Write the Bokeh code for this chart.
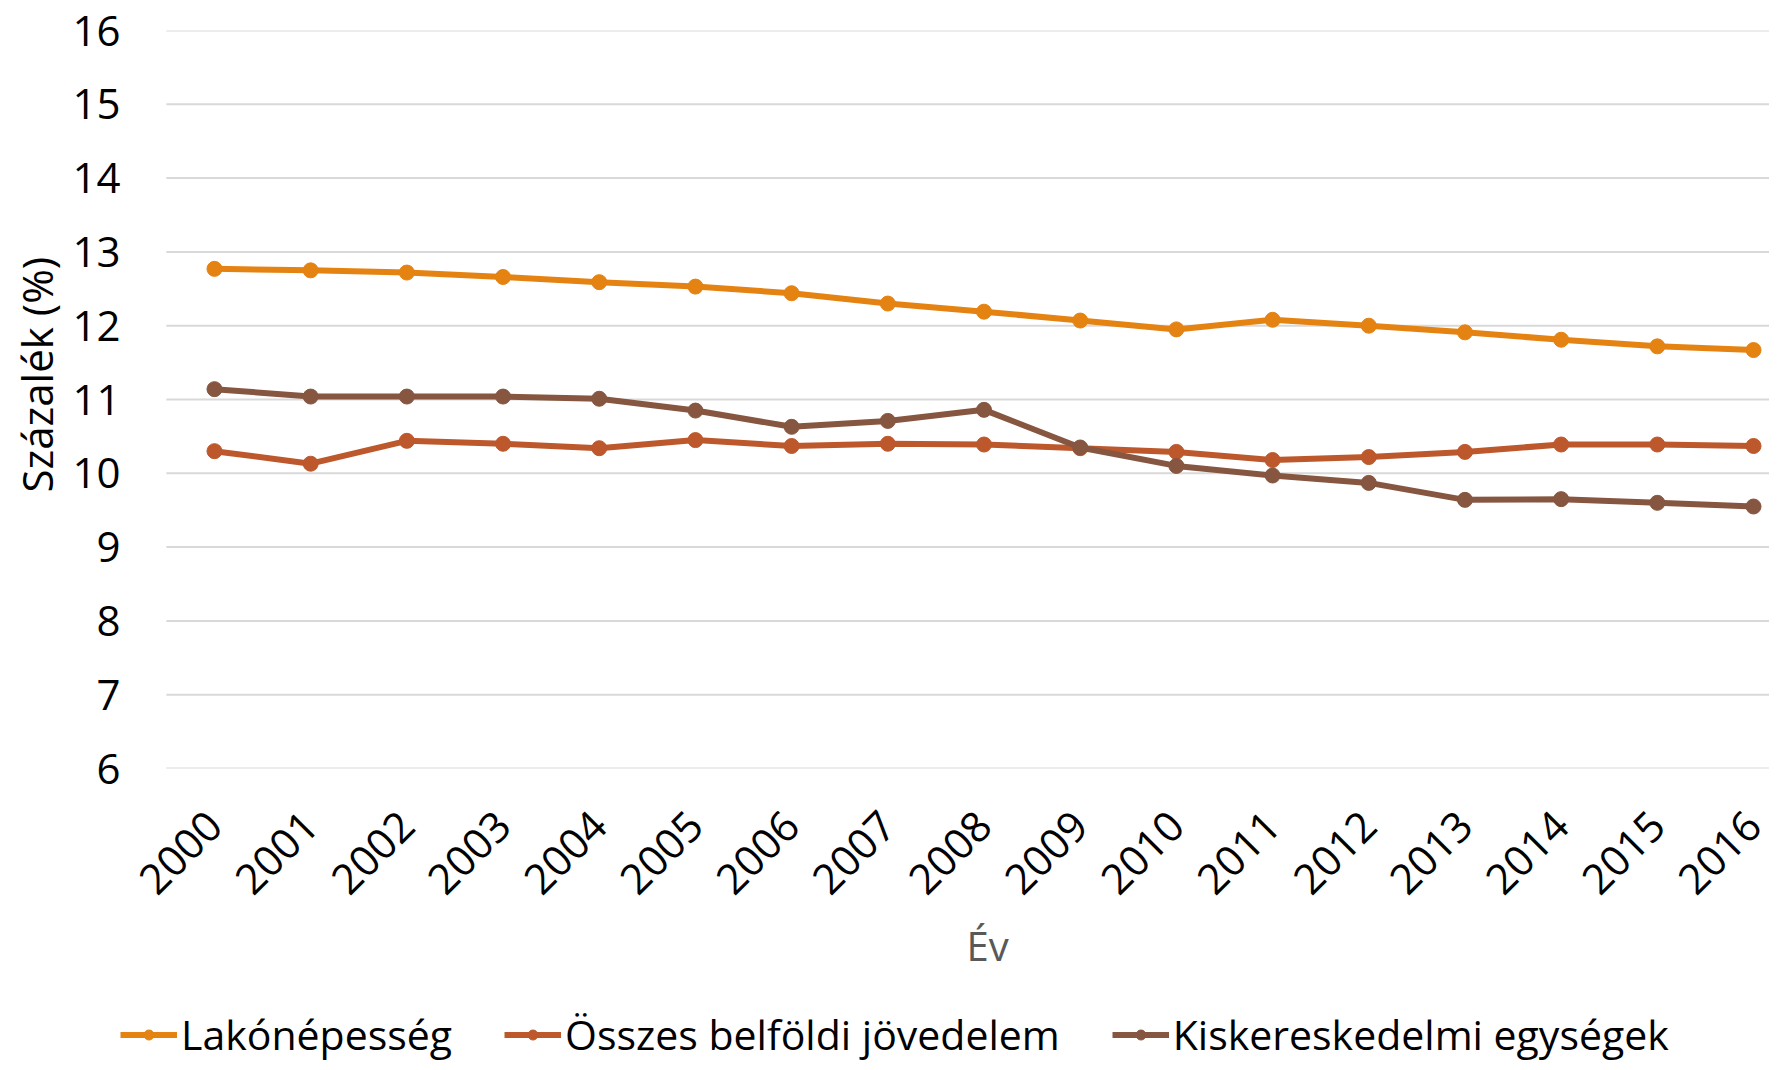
import math
from bokeh.plotting import figure
from bokeh.models import Range1d, FixedTicker, Legend, LegendItem, Title
from bokeh.layouts import column
from bokeh.embed import file_html
from bokeh.resources import INLINE

years = list(range(2000, 2017))
year_labels = [str(y) for y in years]
lakonepesseg = [12.77, 12.75, 12.72, 12.66, 12.59, 12.53, 12.44, 12.30, 12.19,
                12.07, 11.95, 12.08, 12.00, 11.91, 11.81, 11.72, 11.67]
osszes_jovedelem = [10.30, 10.13, 10.44, 10.40, 10.34, 10.45, 10.37, 10.40, 10.39,
                    10.34, 10.29, 10.18, 10.22, 10.29, 10.39, 10.39, 10.37]
kiskereskedelmi = [11.14, 11.04, 11.04, 11.04, 11.01, 10.85, 10.63, 10.71, 10.86,
                   10.35, 10.10, 9.97, 9.87, 9.64, 9.65, 9.60, 9.55]
series_names = ["Lakónépesség", "Összes belföldi jövedelem", "Kiskereskedelmi egységek"]
series_colors = ["#E48312", "#BD582C", "#865640"]
series_values = [lakonepesseg, osszes_jovedelem, kiskereskedelmi]
y_ticks = list(range(6, 17))

FONT = "Open Sans"
W = 1769
H1 = 1000
H2 = 62
X0, X1 = 1999.023, 2016.166      # visible x extent
CAT_LO, CAT_HI = 1999.5, 2016.5  # category band edges (grid line extent)

p = figure(width=W, height=H1, output_backend="svg", toolbar_location=None,
           x_range=Range1d(X0, X1), y_range=Range1d(6, 16),
           min_border_left=115, min_border_right=0, min_border_top=30,
           min_border_bottom=H1 - 768)
p.outline_line_color = None
p.background_fill_color = "white"
p.border_fill_color = "white"

p.xgrid.grid_line_color = None
p.ygrid.grid_line_color = None
p.segment(x0=[CAT_LO] * len(y_ticks), y0=y_ticks, x1=[CAT_HI] * len(y_ticks), y1=y_ticks,
          line_color="#D9D9D9", line_width=2)

p.yaxis.ticker = FixedTicker(ticks=y_ticks)
p.xaxis.ticker = FixedTicker(ticks=years)
p.xaxis.major_label_overrides = {y: s for y, s in zip(years, year_labels)}

for ax in (p.xaxis[0], p.yaxis[0]):
    ax.axis_line_color = None
    ax.major_tick_line_color = None
    ax.minor_tick_line_color = None
    ax.major_tick_out = 0
    ax.major_tick_in = 0
    ax.major_label_text_font = FONT
    ax.major_label_text_font_size = "42px"
    ax.major_label_text_color = "black"

p.yaxis.major_label_standoff = 0

ytitle = Title(text="Százalék (%)", align="left", offset=276, standoff=10,
               text_font=FONT, text_font_size="42px", text_font_style="normal",
               text_color="black")
p.add_layout(ytitle, "left")

p.xaxis.major_label_orientation = math.pi / 4
p.xaxis.major_label_standoff = 50

xtitle = Title(text="Év", align="left", offset=846, standoff=10,
               text_font=FONT, text_font_size="40px", text_font_style="normal",
               text_color="#595959")
p.add_layout(xtitle, "below")

for vals, col in zip(series_values, series_colors):
    p.line(years, vals, line_color=col, line_width=6)
    p.scatter(years, vals, marker="circle", size=15, fill_color=col, line_color=col)

# legend strip below the chart (series drawn outside its visible range)
p2 = figure(width=W, height=H2, output_backend="svg", toolbar_location=None,
            x_range=Range1d(X0, X1), y_range=Range1d(0, 1),
            x_axis_location=None, y_axis_location=None,
            min_border_left=115, min_border_right=0, min_border_top=0,
            min_border_bottom=0)
p2.outline_line_color = None
p2.grid.grid_line_color = None
p2.border_fill_color = "white"

items = []
for name, vals, col in zip(series_names, series_values, series_colors):
    l = p2.line(years, vals, line_color=col, line_width=6)
    s = p2.scatter(years, vals, marker="circle", size=15, fill_color=col, line_color=col)
    items.append(LegendItem(label=name, renderers=[l, s]))

legend = Legend(items=items, orientation="horizontal", location=(0, 0),
                label_text_font=FONT, label_text_font_size="41px",
                label_text_line_height=1.0,
                label_text_color="black", glyph_width=57, glyph_height=25,
                label_standoff=4, spacing=52, padding=0, margin=0,
                border_line_color=None, background_fill_alpha=0)
p2.add_layout(legend)

layout = column(p, p2, spacing=0)
open("out.html", "w").write(file_html(layout, INLINE))
